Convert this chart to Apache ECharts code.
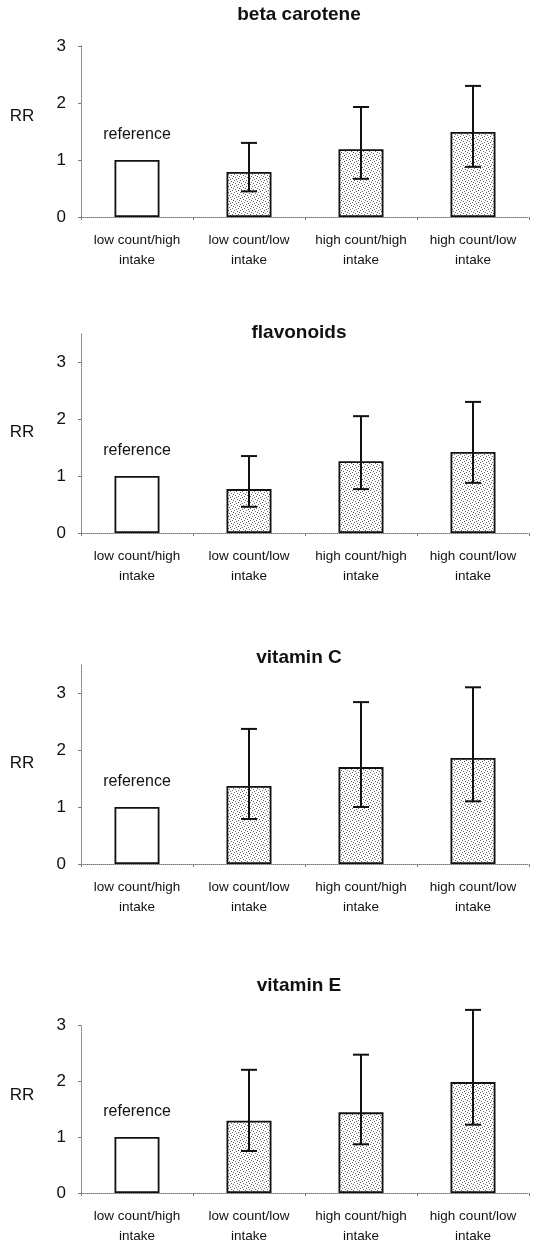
<!DOCTYPE html>
<html><head><meta charset="utf-8">
<script src="https://cdn.jsdelivr.net/npm/echarts@6/dist/echarts.min.js"></script>
<style>html,body{margin:0;padding:0;background:#fff}#c{width:556px;height:1246px}</style>
</head><body><div id="c"></div>
<script>
// ---- data ----
const categories = ['low count/high\nintake', 'low count/low\nintake', 'high count/high\nintake', 'high count/low\nintake'];
const panelTitles = ['beta carotene', 'flavonoids', 'vitamin C', 'vitamin E'];
const yTickValues = [0, 1, 2, 3];
const yMaxValues = [3, 3.5, 3.5, 3];

const betaRR   = [1.00, 0.79, 1.19, 1.49];
const betaLow  = [null, 0.45, 0.67, 0.88];
const betaHigh = [null, 1.30, 1.93, 2.30];

const flavRR   = [1.00, 0.77, 1.26, 1.42];
const flavLow  = [null, 0.46, 0.77, 0.88];
const flavHigh = [null, 1.35, 2.05, 2.30];

const vitCRR   = [1.00, 1.37, 1.70, 1.86];
const vitCLow  = [null, 0.79, 1.00, 1.10];
const vitCHigh = [null, 2.37, 2.84, 3.10];

const vitERR   = [1.00, 1.29, 1.44, 1.98];
const vitELow  = [null, 0.75, 0.87, 1.22];
const vitEHigh = [null, 2.20, 2.47, 3.27];

const panelRR   = [betaRR, flavRR, vitCRR, vitERR];
const panelLow  = [betaLow, flavLow, vitCLow, vitELow];
const panelHigh = [betaHigh, flavHigh, vitCHigh, vitEHigh];
const referenceLabel = 'reference';
const yAxisTitle = 'RR';

// ---- layout ----
const FONT = '"Liberation Sans", Arial, sans-serif';
const gridLeft = 81, gridWidth = 448, pxPerUnit = 57;
const zeroY = [217, 533, 864, 1196];
const titleY = [15, 333, 658, 986];
const titleX = 299;

// stipple pattern
const pc = document.createElement('canvas');
pc.width = 6; pc.height = 6;
const pctx = pc.getContext('2d');
pctx.fillStyle = '#ffffff'; pctx.fillRect(0, 0, 6, 6);
pctx.fillStyle = '#6a6a6a';
[[0,0],[3,1],[1,3],[4,4],[5,2],[2,5]].forEach(p => pctx.fillRect(p[0], p[1], 1, 1));
const stipple = { image: pc, repeat: 'repeat' };

function renderErr(params, api) {
  const x = api.value(0), lo = api.value(1), hi = api.value(2);
  const p1 = api.coord([x, lo]), p2 = api.coord([x, hi]);
  const hw = 8;
  const st = { stroke: '#111', lineWidth: 2 };
  return { type: 'group', children: [
    { type: 'line', shape: { x1: p1[0], y1: p1[1], x2: p2[0], y2: p2[1] }, style: st },
    { type: 'line', shape: { x1: p1[0] - hw, y1: p1[1], x2: p1[0] + hw, y2: p1[1] }, style: st },
    { type: 'line', shape: { x1: p2[0] - hw, y1: p2[1], x2: p2[0] + hw, y2: p2[1] }, style: st }
  ]};
}

const grids = [], xAxes = [], yAxes = [], series = [], graphics = [];
for (let i = 0; i < 4; i++) {
  const h = yMaxValues[i] * pxPerUnit;
  grids.push({ left: gridLeft, width: gridWidth, top: zeroY[i] - h, height: h });
  xAxes.push({
    type: 'category', gridIndex: i, data: categories,
    axisLine: { lineStyle: { color: '#777', type: 'dotted', width: 1 } },
    axisTick: { show: true, length: 3, lineStyle: { color: '#777' } },
    axisLabel: { interval: 0, color: '#111', fontFamily: FONT, fontSize: 13.5, lineHeight: 20, margin: 13 }
  });
  yAxes.push({
    type: 'value', gridIndex: i, min: 0, max: yMaxValues[i], interval: 1,
    splitLine: { show: false },
    axisLine: { show: true, lineStyle: { color: '#777', type: 'dotted', width: 1 } },
    axisTick: { show: true, length: 3, customValues: yTickValues, lineStyle: { color: '#777' } },
    axisLabel: { customValues: yTickValues, color: '#111', fontFamily: FONT, fontSize: 17, margin: 15 }
  });
  const rr = panelRR[i];
  series.push({
    type: 'bar', xAxisIndex: i, yAxisIndex: i, barWidth: 45,
    data: rr.map((v, k) => k === 0 ? {
      value: v,
      itemStyle: { color: '#fff', borderColor: '#111', borderWidth: 1.8 },
      label: { show: true, position: 'top', distance: 17, formatter: referenceLabel, color: '#111', fontFamily: FONT, fontSize: 16 }
    } : {
      value: v,
      itemStyle: { color: stipple, borderColor: '#111', borderWidth: 1.8 }
    }),
    silent: true, animation: false, z: 2
  });
  const errData = [];
  for (let k = 0; k < rr.length; k++) {
    if (panelLow[i][k] != null) errData.push([k, panelLow[i][k], panelHigh[i][k]]);
  }
  series.push({
    type: 'custom', xAxisIndex: i, yAxisIndex: i, renderItem: renderErr,
    data: errData, clip: false, silent: true, animation: false, z: 5
  });
  graphics.push({
    type: 'text', x: titleX, y: titleY[i],
    style: { text: panelTitles[i], font: 'bold 19px ' + FONT, fill: '#111', textAlign: 'center', textVerticalAlign: 'middle' }
  });
  graphics.push({
    type: 'text', x: 22, y: zeroY[i] - 1.77 * pxPerUnit,
    style: { text: yAxisTitle, font: '17px ' + FONT, fill: '#111', textAlign: 'center', textVerticalAlign: 'middle' }
  });
}

const chart = echarts.init(document.getElementById('c'), null, { renderer: 'canvas' });
chart.setOption({
  backgroundColor: '#fff', animation: false,
  grid: grids, xAxis: xAxes, yAxis: yAxes, series: series, graphic: graphics
});
</script></body></html>
